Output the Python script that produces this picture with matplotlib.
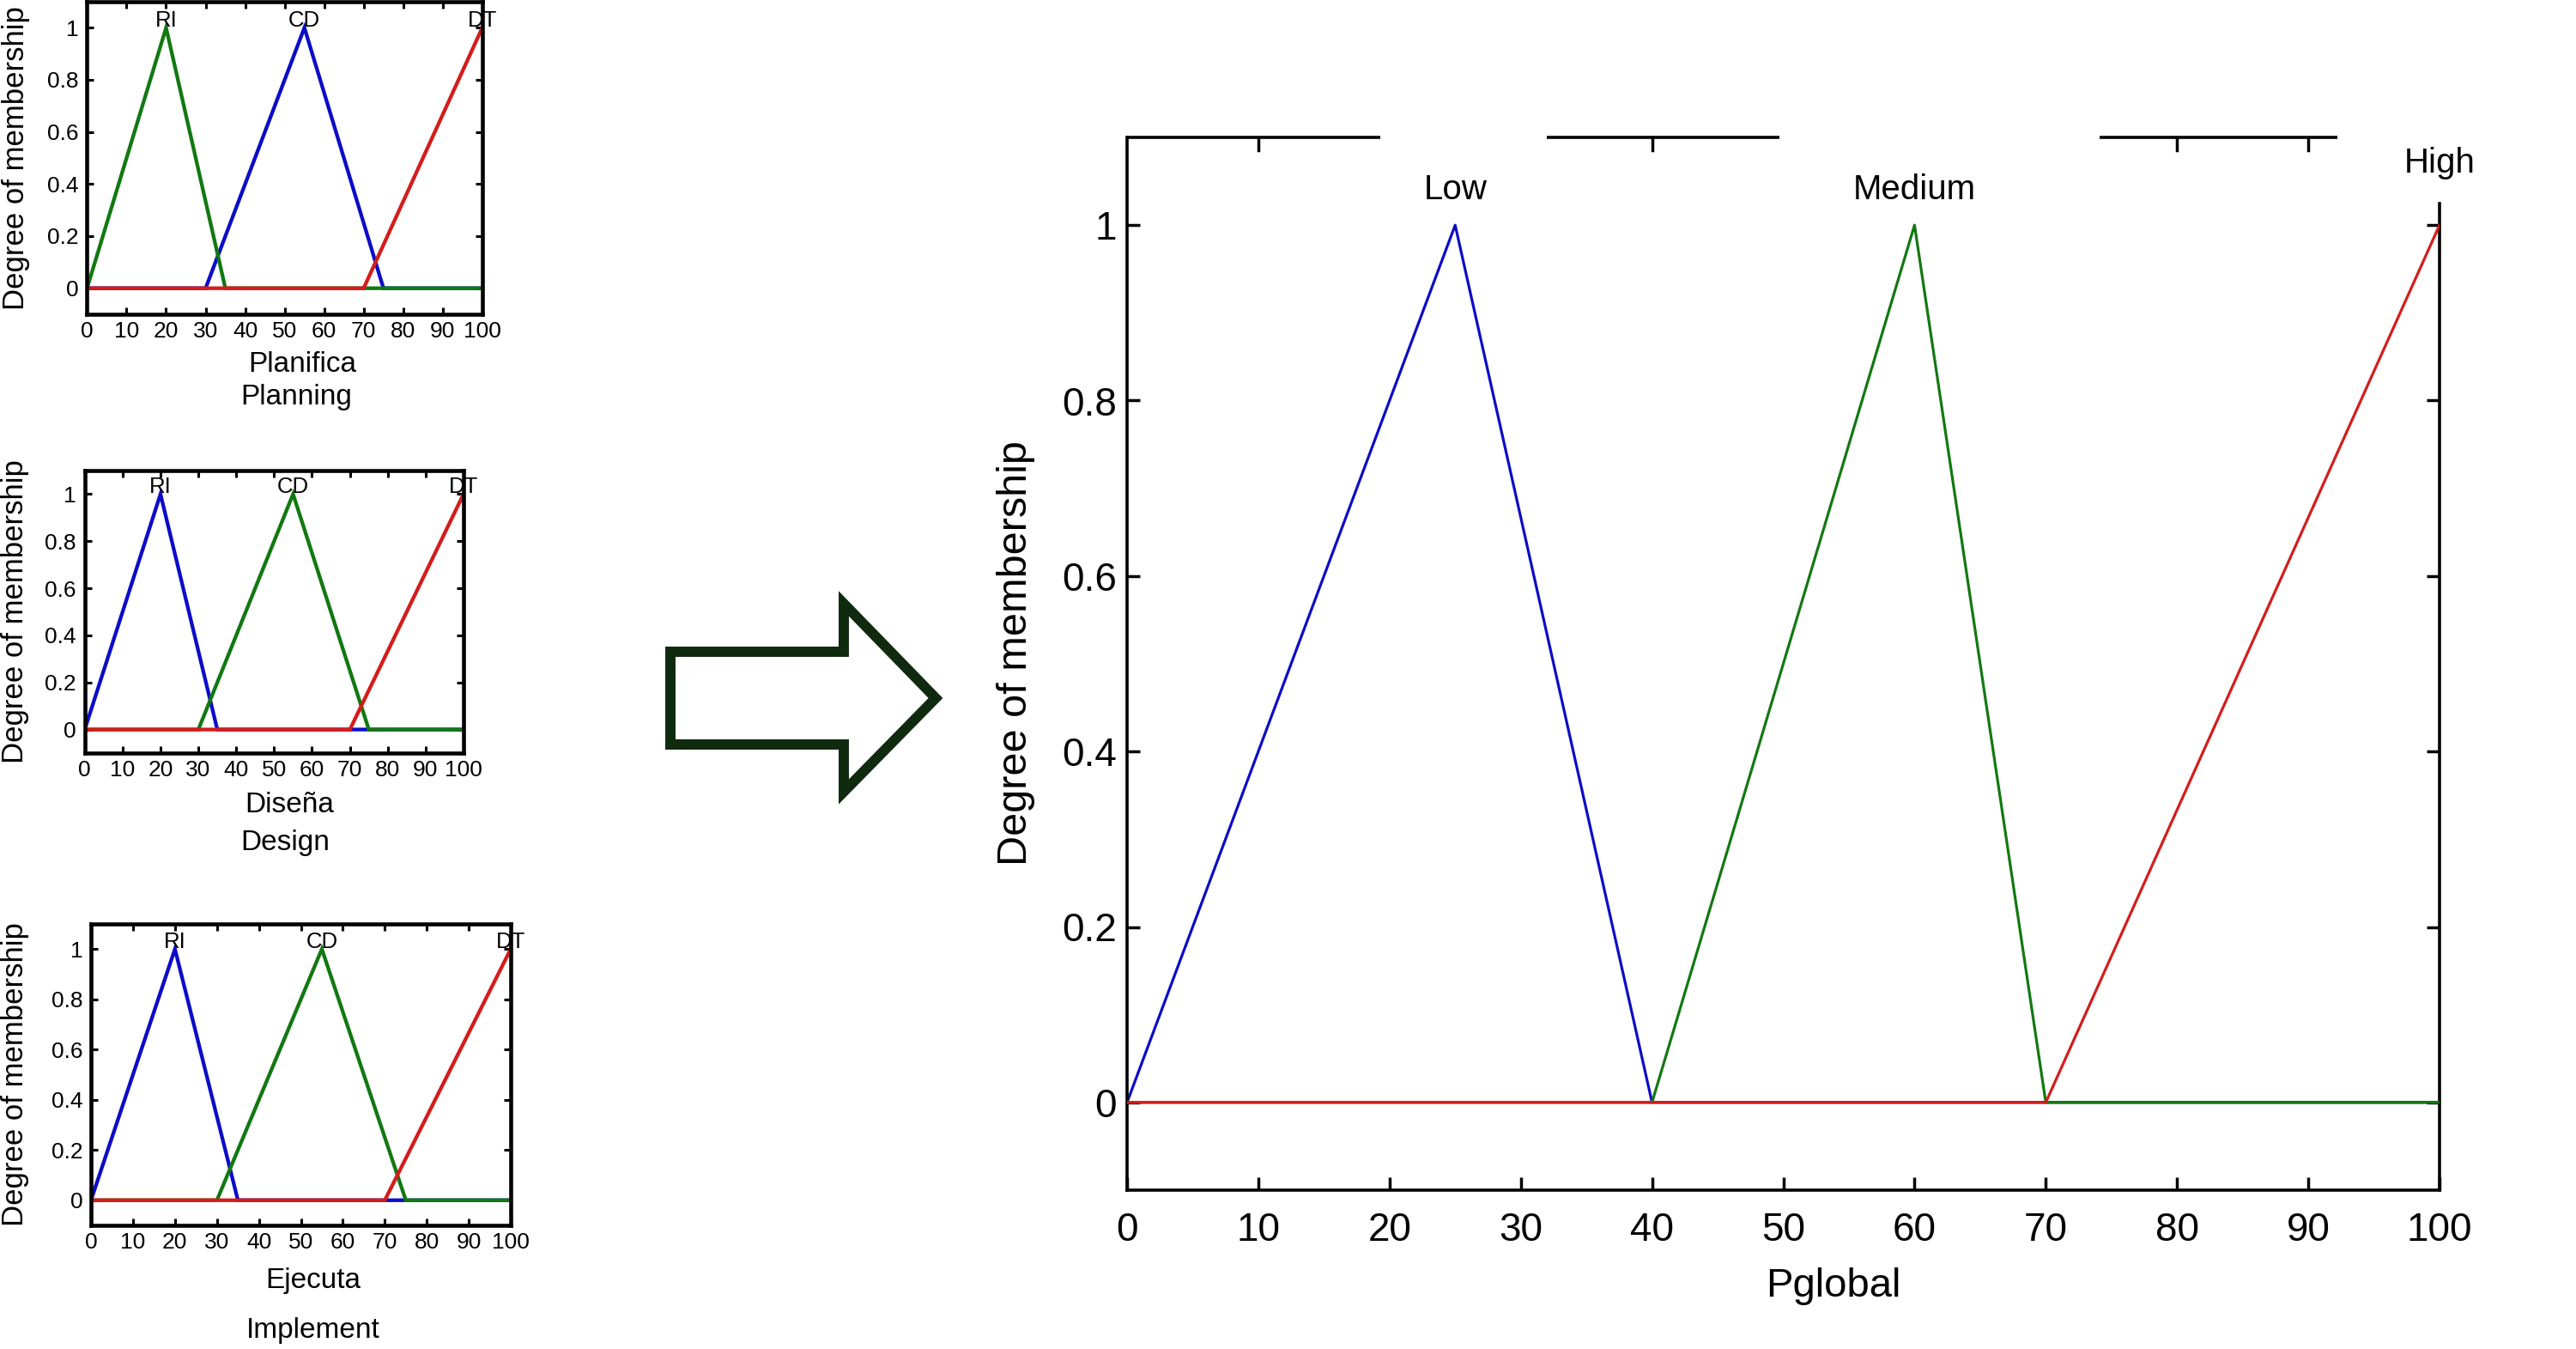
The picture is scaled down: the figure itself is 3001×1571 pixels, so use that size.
import matplotlib.pyplot as plt
from matplotlib.patches import Polygon
from matplotlib.ticker import FuncFormatter

plt.rcParams['font.family'] = ['Liberation Sans', 'DejaVu Sans']

W, H = 3001, 1571

# input variables (left): three membership functions each
mf_names = ['RI', 'CD', 'DT']
mf_x = [[0, 20, 35, 100], [0, 30, 55, 75, 100], [0, 70, 100]]
mf_y = [[0, 1, 0, 0], [0, 0, 1, 0, 0], [0, 0, 1]]
mf_peaks = [20, 55, 100]

input_es = ['Planifica', 'Diseña', 'Ejecuta']
input_en = ['Planning', 'Design', 'Implement']
input_colors = [['green', 'blue', 'red'],
                ['blue', 'green', 'red'],
                ['blue', 'green', 'red']]

# output variable (right)
out_names = ['Low', 'Medium', 'High']
out_x = [[0, 25, 40, 100], [0, 40, 60, 70, 100], [0, 70, 100]]
out_y = [[0, 1, 0, 0], [0, 0, 1, 0, 0], [0, 0, 1]]
out_peaks = [25, 60, 100]
out_label_y = [1.03, 1.03, 1.06]
out_colors = ['blue', 'green', 'red']

x_ticks = list(range(0, 101, 10))
y_ticks = [0, 0.2, 0.4, 0.6, 0.8, 1]

COLORS = {'blue': '#0c0cc8', 'green': '#127812', 'red': '#d41c1c'}
ZORD = {'blue': 2, 'green': 3, 'red': 4}


def _g(v, pos=None):
  return f"{v:g}"


def rect(l, t, r, b):
  return [l / W, 1 - b / H, (r - l) / W, (b - t) / H]


fig = plt.figure(figsize=(W / 100, H / 100), dpi=100)

# --- small input panels ---
small_rects = [(101.4, 2, 561.8, 366), (98.7, 548, 540, 877), (106, 1076, 595, 1427)]
name_pos = [[(0.544, -0.162), (0.53, -0.266)],
            [(0.54, -0.185), (0.53, -0.319)],
            [(0.53, -0.185), (0.53, -0.35)]]
ylab_x = [-0.179, -0.185, -0.18]

for i, r in enumerate(small_rects):
  ax = fig.add_axes(rect(*r))
  for xs, ys, c in zip(mf_x, mf_y, input_colors[i]):
    ax.plot(xs, ys, color=COLORS[c], lw=3.1, zorder=ZORD[c], solid_joinstyle='miter')
  for name, px in zip(mf_names, mf_peaks):
    ax.text(px, 1.005, name, ha='center', va='baseline', fontsize=18.5, zorder=6)
  ax.set_xlim(0, 100)
  ax.set_ylim(-0.1, 1.1)
  ax.set_xticks(x_ticks)
  ax.set_yticks(y_ticks)
  ax.yaxis.set_major_formatter(FuncFormatter(_g))
  ax.tick_params(direction='in', top=True, right=True, length=6, width=2.2, labelsize=19)
  ax.tick_params(axis='x', pad=6)
  ax.tick_params(axis='y', pad=7)
  for s in ax.spines.values():
    s.set_linewidth(3.3)
    s.set_zorder(5)
  ax.set_ylabel('Degree of membership', fontsize=25)
  ax.yaxis.set_label_coords(ylab_x[i], 0.5)
  ax.yaxis.label.set_va('center')
  (x1, y1), (x2, y2) = name_pos[i]
  ax.text(x1, y1, input_es[i], transform=ax.transAxes, ha='center', va='center', fontsize=24)
  ax.text(x2, y2, input_en[i], transform=ax.transAxes, ha='center', va='center', fontsize=24)

# --- arrow ---
arrow_px = [(781, 759), (983, 759), (983, 703), (1090, 813),
            (983, 922), (983, 867), (781, 867)]
arrow = Polygon([(x / W, 1 - y / H) for x, y in arrow_px], closed=True,
                transform=fig.transFigure, facecolor='white', edgecolor='#0f2a0e',
                lw=8.6, joinstyle='miter')
fig.patches.append(arrow)

# --- output panel ---
ax = fig.add_axes(rect(1313, 160, 2842, 1386))
for xs, ys, c in zip(out_x, out_y, out_colors):
  ax.plot(xs, ys, color=COLORS[c], lw=2.3, zorder=ZORD[c])
for name, px, py in zip(out_names, out_peaks, out_label_y):
  ax.text(px, py, name, ha='center', va='baseline', fontsize=29)
ax.set_xlim(0, 100)
ax.set_ylim(-0.1, 1.1)
ax.set_xticks(x_ticks)
ax.set_yticks(y_ticks)
ax.yaxis.set_major_formatter(FuncFormatter(_g))
ax.tick_params(direction='in', left=True, right=True, top=False, length=11, width=2.5, labelsize=33)
ax.tick_params(axis='x', pad=18)
ax.tick_params(axis='y', pad=8.6)
for s in ax.spines.values():
  s.set_linewidth(2.6)
ax.spines['top'].set_visible(False)
ax.spines['right'].set_bounds(-0.1, 1.025)

# top frame is broken where the labels sit
top_segments = [(0, 19.3), (32.0, 49.7), (74.1, 92.2)]
tr = ax.get_xaxis_transform()
tick_len = 15 / 1226
for a, b in top_segments:
  ax.plot([a, b], [1, 1], transform=tr, color='k', lw=2.6, clip_on=False, solid_capstyle='butt')
  for t in x_ticks:
    if a < t < b:
      ax.plot([t, t], [1, 1 - tick_len], transform=tr, color='k', lw=2.5, clip_on=False)

ax.set_ylabel('Degree of membership', fontsize=35)
ax.yaxis.set_label_coords(-0.085, 0.51)
ax.yaxis.label.set_va('center')
ax.set_xlabel('Pglobal', fontsize=34)
ax.xaxis.set_label_coords(0.538, -0.091)
ax.xaxis.label.set_va('center')

fig.savefig('out.png', dpi=100)
